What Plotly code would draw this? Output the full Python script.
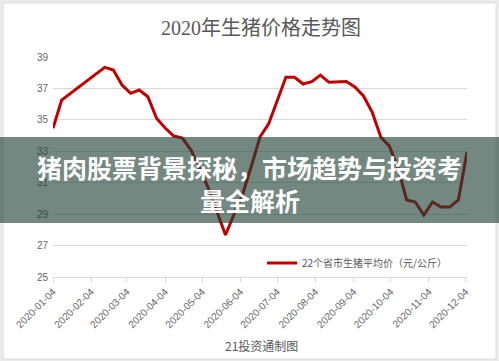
import plotly.graph_objects as go

# ---- data ----
dates = ["2020-01-04", "2020-01-11", "2020-02-15", "2020-02-22", "2020-02-29",
         "2020-03-07", "2020-03-14", "2020-03-21", "2020-03-28", "2020-04-04",
         "2020-04-11", "2020-04-18", "2020-04-25", "2020-05-02", "2020-05-09",
         "2020-05-16", "2020-05-23", "2020-05-30", "2020-06-06", "2020-06-13",
         "2020-06-20", "2020-06-27", "2020-07-04", "2020-07-11", "2020-07-18",
         "2020-07-25", "2020-08-01", "2020-08-08", "2020-08-15", "2020-08-22",
         "2020-08-29", "2020-09-05", "2020-09-12", "2020-09-19", "2020-09-26",
         "2020-10-03", "2020-10-10", "2020-10-17", "2020-10-24", "2020-10-31",
         "2020-11-07", "2020-11-14", "2020-11-21", "2020-11-28", "2020-12-05"]
prices = [34.46, 36.26, 38.34, 38.17, 37.22,
          36.69, 36.90, 36.47, 35.10, 34.48,
          33.97, 33.84, 33.08, 31.93, 30.66,
          29.20, 27.67, 29.01, 30.28, 32.06,
          33.91, 34.74, 36.26, 37.71, 37.71,
          37.28, 37.43, 37.85, 37.39, 37.41,
          37.44, 37.09, 36.52, 35.50, 33.91,
          33.33, 31.93, 29.90, 29.77, 28.94,
          29.77, 29.45, 29.45, 29.90, 32.95]
tick_dates = ["2020-01-04", "2020-02-04", "2020-03-04", "2020-04-04", "2020-05-04",
              "2020-06-04", "2020-07-04", "2020-08-04", "2020-09-04", "2020-10-04",
              "2020-11-04", "2020-12-04"]
y_ticks = [25, 27, 29, 31, 33, 35, 37, 39]
series_name = "22个省市生猪平均价（元/公斤）"
title_text = "2020年生猪价格走势图"
source_text = "21投资通制图"
banner_line1 = "猪肉股票背景探秘，市场趋势与投资考"
banner_line2 = "量全解析"

# ---- geometry (pixels) ----
W, H = 499, 361
L, R, T, B = 53, 32, 57, 84
pw = W - L - R
ph = H - T - B


def px(x):
    return (x - L) / pw


def py(y):
    return (H - B - y) / ph


fig = go.Figure()
fig.add_trace(go.Scatter(
    x=dates, y=prices, mode="lines", name=series_name,
    line=dict(color="#C00000", width=3),
    showlegend=True,
))

gray = "#595959"
fig.update_layout(
    width=W, height=H,
    margin=dict(l=L, r=R, t=T, b=B),
    paper_bgcolor="#ebebeb",
    plot_bgcolor="rgba(0,0,0,0)",
    showlegend=True,
    legend=dict(
        x=px(262), y=py(263), xanchor="left", yanchor="middle",
        bgcolor="rgba(0,0,0,0)", borderwidth=0,
        font=dict(family="Noto Sans CJK SC", size=10, color=gray),
        itemwidth=30,
    ),
    title=dict(
        text=title_text, xref="paper", x=px(261), xanchor="center",
        yref="container", y=1 - 28 / H, yanchor="middle",
        font=dict(family="Liberation Serif, Noto Sans CJK SC", size=20, color=gray),
    ),
    xaxis=dict(
        type="date",
        range=["2020-01-04", "2020-12-05"],
        tickvals=tick_dates, ticktext=tick_dates,
        tickangle=-45,
        showgrid=False, zeroline=False,
        showline=True, linecolor="#d9d9d9", linewidth=1,
        ticks="outside", ticklen=4, tickcolor="#d9d9d9",
        tickfont=dict(family="Liberation Sans", size=10, color="#666666"),
    ),
    yaxis=dict(
        range=[25, 39],
        tickvals=y_ticks,
        showgrid=True, gridcolor="#d9d9d9", gridwidth=1,
        zeroline=False, showline=False, ticks="",
        ticklabelstandoff=4,
        tickfont=dict(family="Liberation Sans", size=10, color="#666666"),
    ),
    shapes=[
        dict(type="rect", xref="paper", yref="paper",
             x0=px(3), x1=px(496), y0=py(359), y1=py(3),
             fillcolor="white", line=dict(color="#dcdcdc", width=1), layer="below"),
        dict(type="rect", xref="paper", yref="paper",
             x0=px(-1), x1=px(500), y0=py(223), y1=py(137),
             fillcolor="rgba(28,63,50,0.62)", line=dict(width=0), layer="above"),
    ],
    annotations=[
        dict(text=source_text, xref="paper", yref="paper", x=px(261), y=py(345),
             xanchor="center", yanchor="middle", showarrow=False,
             font=dict(family="Noto Sans CJK SC", size=12, color=gray)),
        dict(text="<b>" + banner_line1 + "</b>", xref="paper", yref="paper",
             x=px(249.5), y=py(167), xanchor="center", yanchor="middle", showarrow=False,
             font=dict(family="Noto Sans CJK SC", size=25, color="white")),
        dict(text="<b>" + banner_line2 + "</b>", xref="paper", yref="paper",
             x=px(249.5), y=py(200), xanchor="center", yanchor="middle", showarrow=False,
             font=dict(family="Noto Sans CJK SC", size=25, color="white")),
    ],
)

fig.write_html("out.html")
